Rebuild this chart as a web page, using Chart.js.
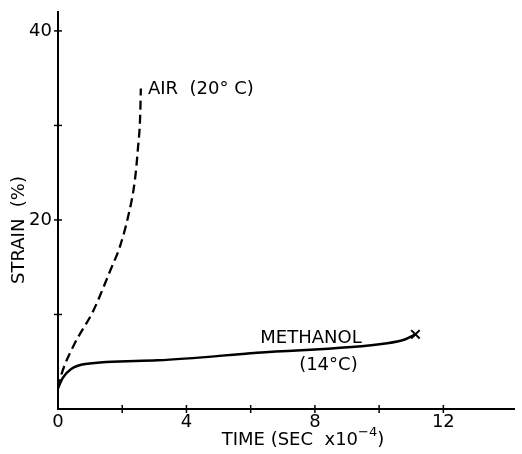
<!DOCTYPE html>
<html>
<head>
<meta charset="utf-8">
<script src="https://cdn.jsdelivr.net/npm/chart.js@4"></script>
<style>
    html, body { margin: 0; padding: 0; background: #fff; }
    #wrap { width: 522px; height: 454px; }
</style>
</head>
<body>
<div id="wrap"><canvas id="strain-chart" width="522" height="454"></canvas></div>
<script>
// time in units of 10^4 s, strain in %
var airTime = [0, 0.12, 0.5, 1.1, 1.67, 1.92, 2.2, 2.39, 2.49, 2.56, 2.58];
var airStrain = [2.2, 3.8, 6.8, 10.4, 15.0, 17.1, 20.6, 24.1, 27.6, 31.1, 33.9];

var methTime = [0, 0.15, 0.4, 0.85, 3.1, 6.2, 10.25, 10.8, 11.13];
var methStrain = [2.2, 3.3, 4.2, 4.75, 5.15, 5.95, 6.95, 7.35, 7.9];

var xLabelTicks = [0, 4, 8, 12];
var xMarkTicks = [2, 4, 6, 8, 10, 12];
var yLabelTicks = [20, 40];
var yMarkTicks = [10, 20, 30, 40];

var FONT = '"DejaVu Sans", sans-serif';

function toPoints(xs, ys) {
    return xs.map(function (x, i) {
        return { x: x, y: ys[i] };
    });
}

var markerRadius = methTime.map(function (t, i) {
    return i === methTime.length - 1 ? 6 : 0;
});

// ticks that cross the axis lines plus the curve labels
var paperPlugin = {
    id: 'paper',
    afterDraw: function (chart) {
        var ctx = chart.ctx;
        var xs = chart.scales.x;
        var ys = chart.scales.y;
        var x0 = xs.getPixelForValue(0);
        var y0 = ys.getPixelForValue(0);

        ctx.save();
        ctx.strokeStyle = '#000';
        ctx.lineWidth = 1.5;
        xMarkTicks.forEach(function (v) {
            var px = xs.getPixelForValue(v);
            ctx.beginPath();
            ctx.moveTo(px, y0 - 4);
            ctx.lineTo(px, y0 + 4);
            ctx.stroke();
        });
        yMarkTicks.forEach(function (v) {
            var py = ys.getPixelForValue(v);
            ctx.beginPath();
            ctx.moveTo(x0 - 4, py);
            ctx.lineTo(x0 + 4, py);
            ctx.stroke();
        });

        ctx.fillStyle = '#000';
        ctx.font = '18px ' + FONT;
        ctx.textBaseline = 'middle';
        ctx.textAlign = 'left';
        ctx.fillText('AIR  (20° C)', xs.getPixelForValue(2.8), ys.getPixelForValue(33.8));
        ctx.fillText('METHANOL', xs.getPixelForValue(6.3), ys.getPixelForValue(7.5));
        ctx.textAlign = 'center';
        ctx.fillText('(14°C)', xs.getPixelForValue(8.42), ys.getPixelForValue(4.6));

        // x axis title with superscript
        var main = 'TIME (SEC  x10';
        var sup = '\u2212' + '4';
        ctx.font = '18px ' + FONT;
        var wMain = ctx.measureText(main).width;
        var wEnd = ctx.measureText(')').width;
        ctx.font = '13px ' + FONT;
        var wSup = ctx.measureText(sup).width;
        var total = wMain + wSup + wEnd;
        var left = 303 - total / 2;
        var ty = 440;
        ctx.textAlign = 'left';
        ctx.font = '18px ' + FONT;
        ctx.fillText(main, left, ty);
        ctx.fillText(')', left + wMain + wSup, ty);
        ctx.font = '13px ' + FONT;
        ctx.fillText(sup, left + wMain, ty - 7);

        // y axis title
        ctx.font = '18px ' + FONT;
        ctx.translate(19, 230);
        ctx.rotate(-Math.PI / 2);
        ctx.textAlign = 'center';
        ctx.fillText('STRAIN  (%)', 0, 0);
        ctx.restore();
    }
};

var chart = new Chart(document.getElementById('strain-chart').getContext('2d'), {
    type: 'scatter',
    data: {
        datasets: [
            {
                label: 'Air (20°C)',
                data: toPoints(airTime, airStrain),
                showLine: true,
                borderColor: '#000',
                borderWidth: 2.3,
                borderDash: [9, 5],
                pointRadius: 0,
                cubicInterpolationMode: 'monotone'
            },
            {
                label: 'Methanol (14°C)',
                data: toPoints(methTime, methStrain),
                showLine: true,
                borderColor: '#000',
                borderWidth: 2.5,
                pointRadius: markerRadius,
                pointStyle: 'crossRot',
                pointBorderColor: '#000',
                pointBorderWidth: 2,
                cubicInterpolationMode: 'monotone'
            }
        ]
    },
    options: {
        responsive: false,
        animation: false,
        events: [],
        layout: {
            padding: { top: 12, right: 0, left: 0, bottom: 0 }
        },
        scales: {
            x: {
                type: 'linear',
                min: 0,
                max: 14.2,
                grid: { display: false },
                border: { color: '#000', width: 2 },
                afterFit: function (scale) {
                    scale.height = 45;
                },
                afterBuildTicks: function (scale) {
                    scale.ticks = xLabelTicks.map(function (v) { return { value: v }; });
                },
                ticks: {
                    autoSkip: false,
                    maxRotation: 0,
                    padding: -5,
                    color: '#000',
                    font: { family: FONT, size: 18 },
                    callback: function (v) { return String(v); }
                }
            },
            y: {
                type: 'linear',
                min: 0,
                max: 42,
                grid: { display: false },
                border: { color: '#000', width: 2 },
                afterFit: function (scale) {
                    scale.width = 58;
                },
                afterBuildTicks: function (scale) {
                    scale.ticks = yLabelTicks.map(function (v) { return { value: v }; });
                },
                ticks: {
                    autoSkip: false,
                    padding: -2,
                    color: '#000',
                    font: { family: FONT, size: 18 },
                    callback: function (v) { return String(v); }
                }
            }
        },
        plugins: {
            legend: { display: false },
            tooltip: { enabled: false }
        }
    },
    plugins: [paperPlugin]
});
</script>
</body>
</html>
